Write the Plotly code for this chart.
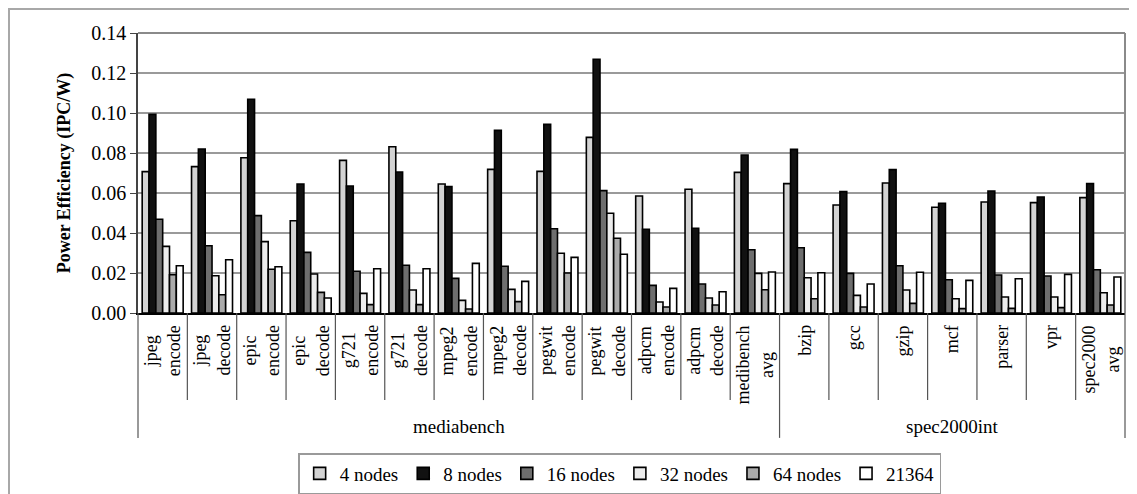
import plotly.graph_objects as go

categories = ["jpeg encode", "jpeg decode", "epic encode", "epic decode", "g721 encode",
              "g721 decode", "mpeg2 encode", "mpeg2 decode", "pegwit encode", "pegwit decode",
              "adpcm encode", "adpcm decode", "medibench avg", "bzip", "gcc", "gzip", "mcf",
              "parser", "vpr", "spec2000 avg"]
tick_labels = ["jpeg<br>encode", "jpeg<br>decode", "epic<br>encode", "epic<br>decode", "g721<br>encode",
               "g721<br>decode", "mpeg2<br>encode", "mpeg2<br>decode", "pegwit<br>encode", "pegwit<br>decode",
               "adpcm<br>encode", "adpcm<br>decode", "medibench<br>avg", "bzip", "gcc", "gzip", "mcf",
               "parser", "vpr", "spec2000<br>avg"]
group_names = ["mediabench", "spec2000int"]
group_sizes = [13, 7]

series_names = ["4 nodes", "8 nodes", "16 nodes", "32 nodes", "64 nodes", "21364"]
n4 = [0.0707, 0.0732, 0.0776, 0.0461, 0.0763, 0.0831, 0.0645, 0.0718, 0.0708, 0.0878,
      0.0585, 0.0619, 0.0703, 0.0647, 0.0540, 0.0650, 0.0529, 0.0555, 0.0552, 0.0577]
n8 = [0.0993, 0.0820, 0.1069, 0.0645, 0.0635, 0.0705, 0.0632, 0.0913, 0.0943, 0.1269,
      0.0419, 0.0424, 0.0790, 0.0818, 0.0607, 0.0717, 0.0549, 0.0610, 0.0580, 0.0647]
n16 = [0.0469, 0.0336, 0.0487, 0.0303, 0.0209, 0.0239, 0.0173, 0.0234, 0.0421, 0.0612,
       0.0138, 0.0145, 0.0316, 0.0326, 0.0198, 0.0236, 0.0166, 0.0190, 0.0185, 0.0216]
n32 = [0.0333, 0.0186, 0.0357, 0.0195, 0.0098, 0.0115, 0.0063, 0.0118, 0.0299, 0.0499,
       0.0055, 0.0075, 0.0198, 0.0176, 0.0088, 0.0115, 0.0071, 0.0080, 0.0080, 0.0101]
n64 = [0.0191, 0.0091, 0.0219, 0.0103, 0.0042, 0.0042, 0.0020, 0.0057, 0.0200, 0.0374,
       0.0030, 0.0040, 0.0116, 0.0071, 0.0030, 0.0048, 0.0022, 0.0023, 0.0027, 0.0040]
a21364 = [0.0236, 0.0266, 0.0231, 0.0075, 0.0221, 0.0221, 0.0248, 0.0158, 0.0278, 0.0294,
          0.0123, 0.0106, 0.0205, 0.0201, 0.0145, 0.0204, 0.0163, 0.0171, 0.0193, 0.0180]
series_values = [n4, n8, n16, n32, n64, a21364]
series_colors = ["#d3d3d3", "#111111", "#6e6e6e", "#ececec", "#ababab", "#ffffff"]

y_ticks = [0.00, 0.02, 0.04, 0.06, 0.08, 0.10, 0.12, 0.14]

FONT = "Liberation Serif, Times New Roman, serif"

fig = go.Figure()
for name, vals, col in zip(series_names, series_values, series_colors):
    fig.add_trace(go.Bar(x=categories, y=vals, name=name,
                         marker=dict(color=col, line=dict(color="#000000", width=1.6))))

shapes = []
# frame top / right (gray)
shapes.append(dict(type="line", xref="paper", yref="paper", x0=0, x1=1, y0=1, y1=1,
                   line=dict(color="#8a8a8a", width=2)))
shapes.append(dict(type="line", xref="paper", yref="paper", x0=1, x1=1, y0=0, y1=1,
                   line=dict(color="#8a8a8a", width=2)))
# outer chart border
shapes.append(dict(type="rect", xref="paper", yref="paper", x0=-0.1307, x1=1.03, y0=-0.8, y1=1.086,
                   line=dict(color="#a8a8a8", width=2), layer="below"))
# category separators
inner_bottom = -0.311
outer_bottom = -0.446
group_edges = set()
acc = 0
for s in group_sizes:
    acc += s
    group_edges.add(acc)
for i in range(1, len(categories)):
    yb = outer_bottom if i in group_edges else inner_bottom
    shapes.append(dict(type="line", xref="x", yref="paper", x0=i - 0.5, x1=i - 0.5, y0=0, y1=yb,
                       line=dict(color="#555555", width=1.2)))
for xe in (0, 1):
    shapes.append(dict(type="line", xref="paper", yref="paper", x0=xe, x1=xe, y0=0, y1=outer_bottom,
                       line=dict(color="#555555", width=1.2)))

annotations = []
for cat, lab in zip(categories, tick_labels):
    annotations.append(dict(x=cat, y=-0.036, xref="x", yref="paper", text=lab, textangle=-90,
                            showarrow=False, xanchor="center", yanchor="top", align="center",
                            font=dict(family=FONT, size=18, color="#000000")))
start = 0
for g, s in zip(group_names, group_sizes):
    mid = start + (s - 1) / 2
    annotations.append(dict(x=mid, y=-0.407, xref="x", yref="paper", text=g, showarrow=False,
                            xanchor="center", yanchor="middle",
                            font=dict(family=FONT, size=19, color="#000000")))
    start += s

# the page body has an 8px margin, so the figure is sized to fit inside the window
fig.update_layout(
    width=1129, height=486,
    margin=dict(l=130, r=12, t=25, b=181, autoexpand=False),
    paper_bgcolor="#ffffff", plot_bgcolor="#ffffff",
    barmode="group", bargap=0.17, bargroupgap=0,
    font=dict(family=FONT, size=18, color="#000000"),
    xaxis=dict(showticklabels=False, ticks="", showgrid=False, showline=True, automargin=False,
               linecolor="#000000", linewidth=1.5, range=[-0.5, len(categories) - 0.5]),
    yaxis=dict(range=[0, 0.14], tickvals=y_ticks, tickformat=".2f", ticks="outside", ticklen=6,
               tickcolor="#444444", showline=True, linecolor="#444444", linewidth=1.5,
               showgrid=True, gridcolor="#9a9a9a", gridwidth=1.5, zeroline=False, automargin=False,
               tickfont=dict(family=FONT, size=20, color="#000000"),
               title=dict(text="<b>Power Efficiency (IPC/W)</b>", standoff=16,
                          font=dict(family=FONT, size=18, color="#000000"))),
    legend=dict(orientation="h", x=0.488, xanchor="center", y=-0.5, yanchor="top",
                bordercolor="#9a9a9a", borderwidth=1.5, bgcolor="#ffffff",
                font=dict(family=FONT, size=19, color="#000000"), itemwidth=30,
                traceorder="normal"),
    shapes=shapes,
    annotations=annotations,
    showlegend=True,
)

fig.write_html("out.html")
